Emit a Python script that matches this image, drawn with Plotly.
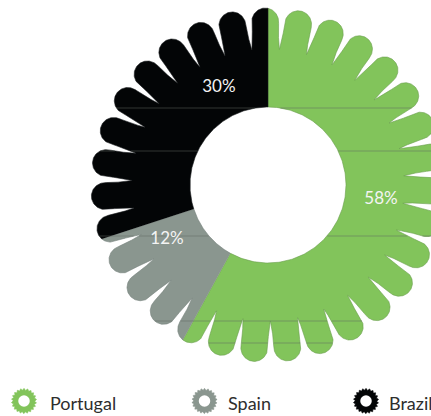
import numpy as np
import plotly.graph_objects as go

# ---- data -------------------------------------------------------------
countries = ["Portugal", "Spain", "Brazil"]
shares = [58, 12, 30]
share_labels = ["58%", "12%", "30%"]

# ---- style ------------------------------------------------------------
fills = ["#82C45B", "#8A968F", "#030506"]
edges = ["#6A9E4E", "#76827C", "#1A1D1E"]
FONT = "Lato, 'Open Sans', sans-serif"

W, H = 431, 416
CX, CY = 268, 185          # ring centre, page px from top-left
R_HOLE = 78
R_VALLEY = 136
R_TIP = 177
N_PETALS = 31
PHASE = -6.8               # first valley, degrees clockwise from 12 o'clock
CAP_H = 15                 # radial height of the rounded petal tip
NECK_U = 0.82              # petal half-width at the tip, as share of half-period

# label placement (angle clockwise from top, radius)
label_angle = [97.6, 241.4, 333.2]
label_radius = [114, 115, 109]

# horizontal hairlines across the filled ring (px above centre)
SEAM_Y = [77, 34, -51, -136, -158]

# legend row (page px)
legend_icon_x = [24, 204.5, 366]
legend_text_x = [48, 226, 387]
legend_y = 401


def petal_outline():
    """Scalloped outer edge as (theta, r), theta monotonic over 3 turns."""
    P = 360.0 / N_PETALS
    dc = (R_TIP - R_VALLEY) - CAP_H
    d1 = np.linspace(0, dc, 80)
    u1 = -(NECK_U + (1 - NECK_U) * (1 - d1 / dc) ** 2)
    t = np.linspace(0, np.pi, 90)[1:-1]
    u2 = -NECK_U * np.cos(t)
    d2 = dc + CAP_H * np.sin(t)
    d3 = d1[::-1]
    u3 = -u1[::-1]
    u = np.concatenate([u1, u2, u3[:-1]])
    d = np.concatenate([d1, d2, d3[:-1]])
    th, rr = [], []
    for k in range(-N_PETALS, 2 * N_PETALS):
        centre = PHASE + P / 2 + k * P
        th.append(centre + u * P / 2)
        rr.append(R_VALLEY + d)
    return np.concatenate(th), np.concatenate(rr)


OUT_T, OUT_R = petal_outline()


def r_out(theta):
    return np.interp(theta, OUT_T, OUT_R)


def to_xy(theta_deg, r):
    a = np.radians(theta_deg)
    return r * np.sin(a), r * np.cos(a)


fig = go.Figure()

# ---- ring segments ----------------------------------------------------
total = float(sum(shares))
start = 0.0
for name, val, fc, ec in zip(countries, shares, fills, edges):
    end = start + 360.0 * val / total
    m = (OUT_T > start) & (OUT_T < end)
    t_out = np.concatenate([[start], OUT_T[m], [end]])
    r_o = np.concatenate([[r_out(start)], OUT_R[m], [r_out(end)]])
    t_in = np.linspace(end, start, 200)
    r_i = np.full_like(t_in, R_HOLE)
    xo, yo = to_xy(t_out, r_o)
    xi, yi = to_xy(t_in, r_i)
    fig.add_trace(go.Scatter(
        x=np.concatenate([xo, xi]), y=np.concatenate([yo, yi]),
        mode="lines", fill="toself", fillcolor=fc,
        line=dict(color=ec, width=0.6), name=name,
        hoverinfo="skip", showlegend=False))
    start = end

# ---- hairlines inside the filled ring --------------------------------
xs_all, ys_all = [], []
xg = np.arange(-CX, W - CX + 0.01, 0.25)
for yv in SEAM_Y:
    rr = np.hypot(xg, yv)
    tt = np.degrees(np.arctan2(xg, yv)) % 360
    inside = (rr >= R_HOLE) & (rr <= r_out(tt))
    idx = np.flatnonzero(np.diff(np.concatenate([[0], inside.astype(int), [0]])))
    for a, b in zip(idx[::2], idx[1::2]):
        xs_all += [xg[a], xg[b - 1], None]
        ys_all += [yv, yv, None]
fig.add_trace(go.Scatter(
    x=xs_all, y=ys_all, mode="lines",
    line=dict(color="rgba(95,105,95,0.5)", width=1),
    hoverinfo="skip", showlegend=False))

# ---- percentage labels -----------------------------------------------
lx, ly = to_xy(np.array(label_angle), np.array(label_radius, dtype=float))
fig.add_trace(go.Scatter(
    x=lx, y=ly, mode="text", text=share_labels,
    textfont=dict(family=FONT, size=17, color="#F4F4F4"),
    hoverinfo="skip", showlegend=False))

# ---- legend row: toothed ring icons + names --------------------------
gt = np.linspace(0, 360, 721)
gr = 11.7 + 1.0 * np.cos(np.radians(gt) * 22)
for name, fc, ix, tx in zip(countries, fills, legend_icon_x, legend_text_x):
    gx, gy = to_xy(gt, gr)
    cx, cy = ix - CX, CY - legend_y
    fig.add_trace(go.Scatter(
        x=gx + cx, y=gy + cy, mode="lines", fill="toself", fillcolor=fc,
        line=dict(color=fc, width=0.5), hoverinfo="skip", showlegend=False))
    fig.add_trace(go.Scatter(
        x=[cx], y=[cy], mode="markers",
        marker=dict(symbol="circle", size=11.5, color="white", line=dict(width=0)),
        hoverinfo="skip", showlegend=False))
    fig.add_annotation(
        x=tx - CX, y=CY - legend_y - 2, text=name, showarrow=False,
        xanchor="left", yanchor="middle",
        font=dict(family=FONT, size=18, color="#2E2E2E"))

fig.update_layout(
    width=W, height=H, margin=dict(l=0, r=0, t=0, b=0),
    paper_bgcolor="white", plot_bgcolor="white",
    xaxis=dict(range=[-CX, W - CX], visible=False, fixedrange=True),
    yaxis=dict(range=[CY - H, CY], visible=False, fixedrange=True),
    hovermode=False, showlegend=False,
)

fig.write_html("out.html", config={"displayModeBar": False})
